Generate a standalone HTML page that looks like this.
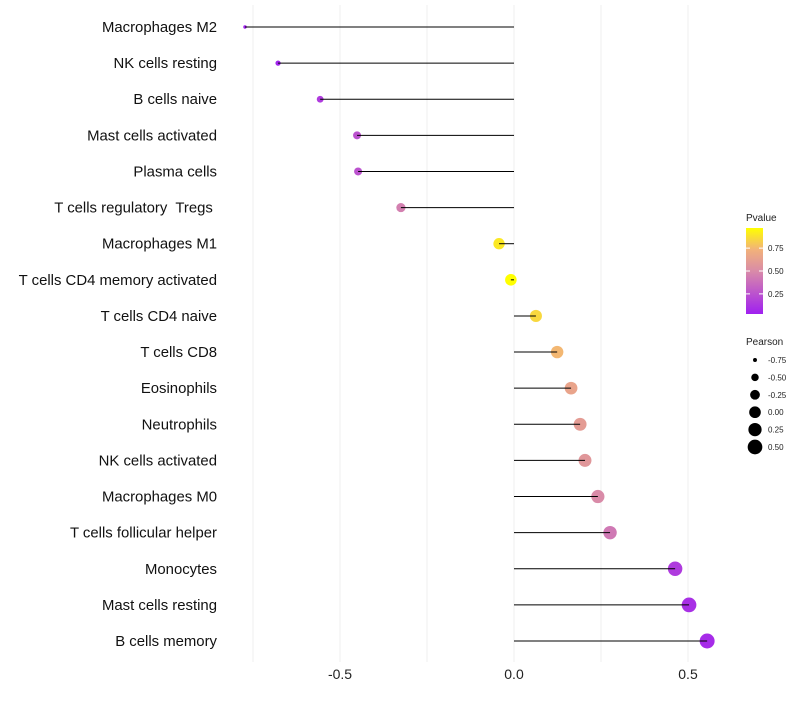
<!DOCTYPE html>
<html><head><meta charset="utf-8"><style>
body{margin:0;background:#fff;font-family:"Liberation Sans",sans-serif;}
</style></head><body>
<svg id="chart" width="800" height="700" xmlns="http://www.w3.org/2000/svg">
<defs><linearGradient id="pg" x1="0" y1="1" x2="0" y2="0">
<stop offset="0" stop-color="#A020F0"/><stop offset="0.5" stop-color="#D98BA8"/><stop offset="0.75" stop-color="#F2B27A"/><stop offset="1" stop-color="#FFFF00"/></linearGradient></defs>
<g id="grid"></g>
<g id="dots"></g>
<g id="marks"></g>
<g id="labels"></g>
<g id="xt"></g>
<g>
<text x="746" y="221" font-size="10" fill="#222">Pvalue</text>
<rect x="746" y="228" width="17" height="86" fill="url(#pg)"/>
<g id="pleg"></g>
</g>
<g>
<text x="746" y="345" font-size="10" fill="#222">Pearson</text>
<g id="sleg"></g>
</g>
</svg>
<script>
const categories=["Macrophages M2","NK cells resting","B cells naive","Mast cells activated","Plasma cells","T cells regulatory  Tregs ","Macrophages M1","T cells CD4 memory activated","T cells CD4 naive","T cells CD8","Eosinophils","Neutrophils","NK cells activated","Macrophages M0","T cells follicular helper","Monocytes","Mast cells resting","B cells memory"];
const pearson=[-0.773,-0.678,-0.557,-0.451,-0.448,-0.325,-0.043,-0.009,0.063,0.124,0.164,0.19,0.204,0.241,0.276,0.463,0.503,0.555];
const pvalues=[0.02,0.05,0.15,0.25,0.25,0.45,0.9,0.98,0.85,0.75,0.65,0.6,0.57,0.5,0.42,0.15,0.1,0.08];
const xTicks=[-0.5,0,0.5];
const xTickLabels=["-0.5","0.0","0.5"];
const minorTicks=[-0.75,-0.25,0.25];
const legendPTicks=[0.25,0.5,0.75];
const legendSizes=[-0.75,-0.5,-0.25,0,0.25,0.5];
const NS="http://www.w3.org/2000/svg";
const X=v=>514+v*348;
const Y=i=>27+i*(614/17);
const R=v=>{const t=Math.max(0,(v+0.773)/1.328);return Math.sqrt(3+t*(56-3));};
function lerp(a,b,t){return a.map((x,i)=>Math.round(x+(b[i]-x)*t));}
const stops=[[0,[160,32,240]],[0.5,[217,139,168]],[0.75,[242,178,122]],[1,[255,255,0]]];
function colP(p){const t=Math.max(0,Math.min(1,(p-0.03)/0.94));for(let k=1;k<stops.length;k++){if(t<=stops[k][0]){const s=stops[k-1];const c=lerp(s[1],stops[k][1],(t-s[0])/(stops[k][0]-s[0]));return `rgb(${c})`;}}return "rgb(255,255,0)";}
function mk(tag,at,parent){const e=document.createElementNS(NS,tag);for(const k in at)e.setAttribute(k,at[k]);document.getElementById(parent).appendChild(e);return e;}
minorTicks.concat(xTicks).forEach(v=>{const l=mk("line",{x1:X(v),x2:X(v),y1:5,y2:662,stroke:"#efefef","stroke-width":1},"grid");

});
xTicks.forEach((v,i)=>{const t=mk("text",{x:X(v),y:679,"text-anchor":"middle","font-size":14,fill:"#222"},"xt");t.textContent=xTickLabels[i];

});
categories.forEach((c,i)=>{
const l=mk("line",{x1:X(0),x2:X(pearson[i]),y1:Y(i),y2:Y(i),stroke:"#000","stroke-width":1},"marks");


const d=mk("circle",{cx:X(pearson[i]),cy:Y(i),r:R(pearson[i]),fill:colP(pvalues[i])},"dots");


const t=mk("text",{x:217,y:Y(i)+5,"text-anchor":"end","font-size":14.9,fill:"#111","xml:space":"preserve"},"labels");t.setAttribute("style","white-space:pre");t.textContent=c;

});
legendPTicks.forEach(p=>{const y=314-(p-0.03)/0.94*86;
const t=mk("text",{x:768,y:y+3,"font-size":8,fill:"#222"},"pleg");t.textContent=p.toFixed(2);


mk("line",{x1:746,x2:750,y1:y,y2:y,stroke:"#fff"},"pleg");mk("line",{x1:759,x2:763,y1:y,y2:y,stroke:"#fff"},"pleg");});
legendSizes.forEach((s,i)=>{const y=360+i*17.4;
const c=mk("circle",{cx:755,cy:y,r:R(s),fill:"#000"},"sleg");


const t=mk("text",{x:768,y:y+3,"font-size":8,fill:"#222"},"sleg");t.textContent=s.toFixed(2);

});
</script>
</body></html>
